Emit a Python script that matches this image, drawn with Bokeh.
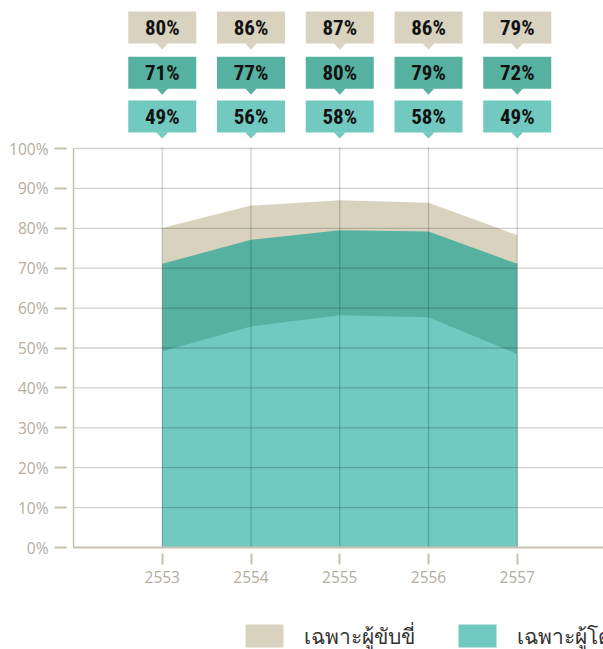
from bokeh.plotting import figure
from bokeh.models import FixedTicker, PrintfTickFormatter, Range1d
from bokeh.layouts import column
from bokeh.core.properties import value
from bokeh.embed import file_html
from bokeh.resources import INLINE

# ---------------- data ----------------
years = [2553, 2554, 2555, 2556, 2557]
rider_only = [80.1, 85.7, 87.0, 86.4, 78.3]      # tan (top)
both = [71.1, 77.1, 79.5, 79.2, 71.1]            # dark teal
passenger_only = [49.2, 55.4, 58.2, 57.7, 48.5]  # light teal
rider_labels = [80, 86, 87, 86, 79]
both_labels = [71, 77, 80, 79, 72]
passenger_labels = [49, 56, 58, 58, 49]
y_ticks = [0, 10, 20, 30, 40, 50, 60, 70, 80, 90, 100]
legend_names = ["เฉพาะผู้ขับขี่", "เฉพาะผู้โดยสาร"]

# ---------------- styles ----------------
TAN = "#d9d2bf"
DARK = "#56b1a0"
LIGHT = "#72c9bf"
AXIS_C = "#c9c1b0"
LABEL_C = "#b5ad9f"

W = 603
H_MAIN, H_LEG = 617, 32
BL, BB = 66, 64
FRAME_W = W - BL
FRAME_H = H_MAIN - BB
PX_X = 88.75   # px per year
PX_Y = 3.99    # px per percent
x0 = years[0] - 1 - 7 / PX_X
x1 = x0 + FRAME_W / PX_X
y0 = -6 / PX_Y
y1 = y0 + FRAME_H / PX_Y

p = figure(width=W, height=H_MAIN, output_backend="svg", toolbar_location=None,
           x_range=Range1d(x0, x1), y_range=Range1d(y0, y1),
           min_border_left=BL, min_border_bottom=BB, min_border_top=0, min_border_right=0)
p.outline_line_color = None
p.xgrid.visible = False
p.ygrid.visible = False

# areas
r_tan = p.varea(x=years, y1=0, y2=rider_only, fill_color=TAN)
r_dark = p.varea(x=years, y1=0, y2=both, fill_color=DARK)
r_light = p.varea(x=years, y1=0, y2=passenger_only, fill_color=LIGHT)

# grid lines (drawn over areas, translucent)
left_x = years[0] - 1
p.segment(x0=[left_x] * (len(y_ticks) - 1), x1=[x1] * (len(y_ticks) - 1),
          y0=y_ticks[1:], y1=y_ticks[1:], line_color="black", line_alpha=0.18, line_width=1.3)
p.segment(x0=years, x1=years, y0=[0] * len(years), y1=[y_ticks[-1] + 0.3] * len(years),
          line_color="black", line_alpha=0.18, line_width=1.3)
# axis lines
p.segment(x0=[left_x], x1=[left_x], y0=[0], y1=[y_ticks[-1]], line_color=AXIS_C, line_width=1.5)
p.segment(x0=[left_x], x1=[x1], y0=[0], y1=[0], line_color=AXIS_C, line_width=2)

# axes
p.yaxis.ticker = FixedTicker(ticks=y_ticks)
p.yaxis.formatter = PrintfTickFormatter(format="%d%%")
p.xaxis.ticker = FixedTicker(ticks=years)
for ax in (p.xaxis[0], p.yaxis[0]):
    ax.axis_line_color = None
    ax.major_tick_in = 0
    ax.minor_tick_line_color = None
    ax.major_tick_line_color = AXIS_C
    ax.major_tick_line_width = 2
    ax.major_label_text_color = LABEL_C
    ax.major_label_text_font = "Open Sans"
    ax.major_label_text_font_size = "15.5px"
p.yaxis.major_tick_out = 12
p.yaxis.major_label_standoff = 6
p.xaxis.major_tick_out = 11
p.xaxis.major_label_standoff = 6

# callout boxes
rows = [(130.3, rider_labels, TAN), (119.0, both_labels, DARK), (108.0, passenger_labels, LIGHT)]
BOX_W, BOX_H = 68, 32
PTR_W, PTR_H = 12, 6
for yc, labels, col in rows:
    p.rect(x=years, y=[yc] * len(years), width=BOX_W, height=BOX_H,
           width_units="screen", height_units="screen", fill_color=col, line_color=None)
    yb = yc - (BOX_H / 2) / PX_Y
    xs = [[yr - PTR_W / 2 / PX_X, yr + PTR_W / 2 / PX_X, yr] for yr in years]
    ys = [[yb + 0.1, yb + 0.1, yb - PTR_H / PX_Y] for _ in years]
    p.patches(xs=xs, ys=ys, fill_color=col, line_color=None)
    p.text(x=years, y=[yc] * len(years), text=[f"{v}%" for v in labels],
           text_align="center", text_baseline="middle", text_color="#111111",
           text_font=value("Roboto Condensed, Open Sans Condensed, DejaVu Sans Condensed"),
           text_font_style="bold", text_font_size="21px")

# legend strip (separate small figure; frame aligned with the main frame, x in page px)
lp = figure(width=W, height=H_LEG, output_backend="svg", toolbar_location=None,
            x_range=Range1d(BL, W), y_range=Range1d(0, H_LEG),
            min_border_left=BL, min_border_right=0, min_border_top=0, min_border_bottom=0)
lp.axis.visible = False
lp.grid.visible = False
lp.outline_line_color = None
leg_colors = [TAN, LIGHT]
leg_x = [245, 458]
SW, SH = 38, 23
lp.quad(left=leg_x, right=[x + SW for x in leg_x], bottom=[2, 2], top=[2 + SH, 2 + SH],
        fill_color=leg_colors, line_color=None)
lp.text(x=[x + SW + 20 for x in leg_x], y=[14, 14], text=legend_names,
        text_align="left", text_baseline="middle", text_color="#333333",
        text_font=value("Noto Sans"), text_font_size="21px")

layout = column(p, lp, spacing=0)
open("out.html", "w").write(file_html(layout, INLINE))
